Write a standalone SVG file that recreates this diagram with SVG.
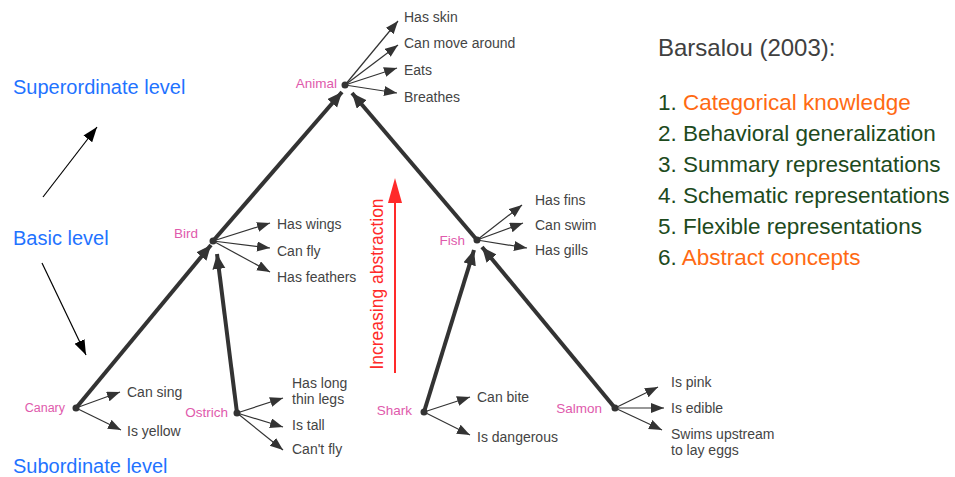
<svg xmlns="http://www.w3.org/2000/svg" width="955" height="477" viewBox="0 0 955 477">
<style>
.prop{font-family:"Liberation Sans",Arial,sans-serif;font-size:14px;fill:#444}
.node{font-family:"Liberation Sans",Arial,sans-serif;font-size:13.5px;fill:#e05aac;text-anchor:end}
.lvl{font-family:"Liberation Sans",Arial,sans-serif;font-size:20px;fill:#1f73ff}
.list{font-family:"Liberation Sans",Arial,sans-serif;font-size:22.5px;fill:#1d4a1d}
.hl{fill:#ff6a13}
.thin{stroke:#333;stroke-width:1.2;fill:none;marker-end:url(#ht)}
.thick{stroke:#333;stroke-width:4;fill:none;marker-end:url(#hk)}
.dot{fill:#333}
</style>
<defs>
<marker id="ht" markerUnits="userSpaceOnUse" markerWidth="14" markerHeight="12" refX="13" refY="5" orient="auto"><path d="M0,0 L13,5 L0,10 z" fill="#333"/></marker>
<marker id="hk" markerUnits="userSpaceOnUse" markerWidth="16" markerHeight="14" refX="15" refY="6.5" orient="auto"><path d="M0,0 L15,6.5 L0,13 z" fill="#333"/></marker>
<marker id="hb" markerUnits="userSpaceOnUse" markerWidth="16" markerHeight="12" refX="15" refY="5.5" orient="auto"><path d="M0,0 L15,5.5 L0,11 z" fill="#000"/></marker>
</defs>

<g id="connectors">
<line class="thick" x1="76" y1="408" x2="211" y2="245"/>
<line class="thick" x1="237" y1="413" x2="217" y2="254"/>
<line class="thick" x1="213" y1="241" x2="342" y2="92"/>
<line class="thick" x1="477" y1="240" x2="352" y2="93"/>
<line class="thick" x1="424" y1="412" x2="474" y2="250"/>
<line class="thick" x1="615" y1="408" x2="482" y2="247"/>
<line class="thin" x1="345" y1="85" x2="398" y2="21"/>
<line class="thin" x1="345" y1="85" x2="398" y2="45"/>
<line class="thin" x1="345" y1="85" x2="397" y2="68"/>
<line class="thin" x1="345" y1="85" x2="397" y2="93"/>
<line class="thin" x1="213" y1="241" x2="270" y2="223"/>
<line class="thin" x1="213" y1="241" x2="270" y2="248"/>
<line class="thin" x1="213" y1="241" x2="270" y2="272"/>
<line class="thin" x1="477" y1="240" x2="522" y2="205"/>
<line class="thin" x1="477" y1="240" x2="523" y2="223"/>
<line class="thin" x1="477" y1="240" x2="527" y2="248"/>
<line class="thin" x1="76" y1="408" x2="120" y2="392"/>
<line class="thin" x1="76" y1="408" x2="121" y2="430"/>
<line class="thin" x1="237" y1="413" x2="283" y2="398"/>
<line class="thin" x1="237" y1="413" x2="283" y2="427"/>
<line class="thin" x1="237" y1="413" x2="283" y2="450"/>
<line class="thin" x1="424" y1="412" x2="470" y2="397"/>
<line class="thin" x1="424" y1="412" x2="470" y2="435"/>
<line class="thin" x1="615" y1="408" x2="658" y2="387"/>
<line class="thin" x1="615" y1="408" x2="664" y2="408"/>
<line class="thin" x1="615" y1="408" x2="662" y2="430"/>
<line stroke="#000" stroke-width="1.2" x1="43" y1="197" x2="97" y2="127" marker-end="url(#hb)"/>
<line stroke="#000" stroke-width="1.2" x1="42" y1="263" x2="86" y2="355" marker-end="url(#hb)"/>
<line stroke="#ff2a2a" stroke-width="2" x1="395" y1="373" x2="395" y2="198"/>
<polygon points="395,178 388,203 402,203" fill="#ff2a2a"/>
</g>

<g id="animal"><circle class="dot" cx="345" cy="85" r="3.5"/><text class="node" x="337" y="88">Animal</text>
<text class="prop" x="404" y="22">Has skin</text><text class="prop" x="404" y="48">Can move around</text><text class="prop" x="404" y="75">Eats</text><text class="prop" x="404" y="101.5">Breathes</text></g>

<g id="bird"><circle class="dot" cx="213" cy="241" r="3.5"/><text class="node" x="198" y="238">Bird</text>
<text class="prop" x="277" y="229">Has wings</text><text class="prop" x="277" y="256">Can fly</text><text class="prop" x="277" y="282">Has feathers</text></g>

<g id="fish"><circle class="dot" cx="477" cy="240" r="3.5"/><text class="node" x="465" y="245">Fish</text>
<text class="prop" x="535" y="205">Has fins</text><text class="prop" x="535" y="230">Can swim</text><text class="prop" x="535" y="255">Has gills</text></g>

<g id="canary"><circle class="dot" cx="76" cy="408" r="3.5"/><text class="node" x="65" y="412" style="font-size:12.5px">Canary</text>
<text class="prop" x="127" y="397">Can sing</text><text class="prop" x="127" y="436">Is yellow</text></g>

<g id="ostrich"><circle class="dot" cx="237" cy="413" r="3.5"/><text class="node" x="228" y="417">Ostrich</text>
<text class="prop" x="292" y="388">Has long</text><text class="prop" x="292" y="403.5">thin legs</text><text class="prop" x="292" y="430">Is tall</text><text class="prop" x="292" y="454">Can't fly</text></g>

<g id="shark"><circle class="dot" cx="424" cy="412" r="3.5"/><text class="node" x="412" y="415">Shark</text>
<text class="prop" x="477" y="402">Can bite</text><text class="prop" x="477" y="442">Is dangerous</text></g>

<g id="salmon"><circle class="dot" cx="615" cy="408" r="3.5"/><text class="node" x="602" y="413">Salmon</text>
<text class="prop" x="671" y="387">Is pink</text><text class="prop" x="671" y="413">Is edible</text><text class="prop" x="671" y="438.5">Swims upstream</text><text class="prop" x="671" y="455">to lay eggs</text></g>

<g id="levels">
<text class="lvl" x="13" y="94">Superordinate level</text>
<text class="lvl" x="13" y="245">Basic level</text>
<text class="lvl" x="13" y="473">Subordinate level</text>
</g>

<g id="abstraction">
<text x="383" y="284" transform="rotate(-90 383 284)" text-anchor="middle" font-family="'Liberation Sans',Arial,sans-serif" font-size="17.5" fill="#ff2a2a">Increasing abstraction</text>
</g>

<g id="barsalou">
<text x="658" y="56" font-family="'Liberation Sans',Arial,sans-serif" font-size="24" fill="#404040">Barsalou (2003):</text>
<text class="list" x="658" y="110">1. <tspan class="hl">Categorical knowledge</tspan></text>
<text class="list" x="658" y="141">2. Behavioral generalization</text>
<text class="list" x="658" y="172">3. Summary representations</text>
<text class="list" x="658" y="203">4. Schematic representations</text>
<text class="list" x="658" y="234">5. Flexible representations</text>
<text class="list" x="658" y="265">6. <tspan class="hl">Abstract concepts</tspan></text>
</g>
</svg>
